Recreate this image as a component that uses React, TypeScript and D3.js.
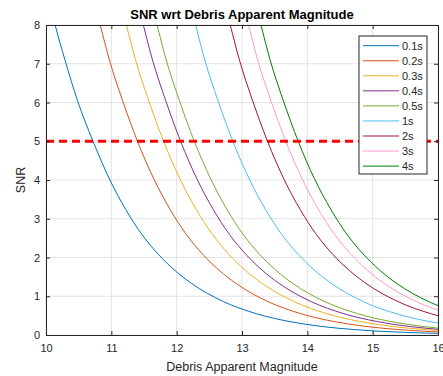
import React, { useEffect, useRef } from 'react';
import * as d3 from 'd3';

// exposure times shown in the legend
const exposures = ['0.1s', '0.2s', '0.3s', '0.4s', '0.5s', '1s', '2s', '3s', '4s'];

// [apparent magnitude, SNR], one list per exposure
const snr01: [number, number][] = [[10.0, 9.0], [10.14, 8.0], [10.29, 7.1], [10.48, 6.06], [10.72, 5.0], [10.97, 4.03], [11.22, 3.24], [11.47, 2.59], [11.72, 2.08], [11.97, 1.67], [12.22, 1.34], [12.72, 0.86], [13.22, 0.55], [13.72, 0.35], [14.22, 0.22], [14.72, 0.14], [15.22, 0.087], [15.72, 0.055], [16.02, 0.041]];
const snr02: [number, number][] = [[10.68, 9.0], [10.83, 8.0], [10.97, 7.1], [11.17, 6.06], [11.4, 5.0], [11.65, 4.03], [11.9, 3.24], [12.15, 2.59], [12.4, 2.08], [12.65, 1.67], [12.9, 1.34], [13.4, 0.86], [13.9, 0.55], [14.4, 0.35], [14.9, 0.22], [15.4, 0.14], [15.9, 0.087], [16.4, 0.055]];
const snr03: [number, number][] = [[11.08, 9.0], [11.23, 8.0], [11.37, 7.1], [11.57, 6.06], [11.8, 5.0], [12.05, 4.03], [12.3, 3.24], [12.55, 2.59], [12.8, 2.08], [13.05, 1.67], [13.3, 1.34], [13.8, 0.86], [14.3, 0.55], [14.8, 0.35], [15.3, 0.22], [15.8, 0.14], [16.3, 0.087]];
const snr04: [number, number][] = [[11.34, 9.0], [11.49, 8.0], [11.63, 7.1], [11.83, 6.06], [12.06, 5.0], [12.31, 4.03], [12.56, 3.24], [12.81, 2.59], [13.06, 2.08], [13.31, 1.67], [13.56, 1.34], [14.06, 0.86], [14.56, 0.55], [15.06, 0.35], [15.56, 0.22], [16.06, 0.14]];
const snr05: [number, number][] = [[11.55, 9.0], [11.7, 8.0], [11.84, 7.1], [12.04, 6.06], [12.27, 5.0], [12.52, 4.03], [12.77, 3.24], [13.02, 2.59], [13.27, 2.08], [13.52, 1.67], [13.77, 1.34], [14.27, 0.86], [14.77, 0.55], [15.27, 0.35], [15.77, 0.22], [16.27, 0.14]];
const snr1: [number, number][] = [[12.14, 9.0], [12.29, 8.0], [12.43, 7.1], [12.63, 6.06], [12.86, 5.0], [13.11, 4.03], [13.36, 3.24], [13.61, 2.59], [13.86, 2.08], [14.11, 1.67], [14.36, 1.34], [14.86, 0.86], [15.36, 0.55], [15.86, 0.35], [16.36, 0.22]];
const snr2: [number, number][] = [[12.67, 9.0], [12.82, 8.0], [12.96, 7.1], [13.16, 6.06], [13.39, 5.0], [13.64, 4.03], [13.89, 3.24], [14.14, 2.59], [14.39, 2.08], [14.64, 1.67], [14.89, 1.34], [15.39, 0.86], [15.89, 0.55], [16.39, 0.35]];
const snr3: [number, number][] = [[12.95, 9.0], [13.1, 8.0], [13.24, 7.1], [13.44, 6.06], [13.67, 5.0], [13.92, 4.03], [14.17, 3.24], [14.42, 2.59], [14.67, 2.08], [14.92, 1.67], [15.17, 1.34], [15.67, 0.86], [16.17, 0.55]];
const snr4: [number, number][] = [[13.14, 9.0], [13.29, 8.0], [13.43, 7.1], [13.63, 6.06], [13.86, 5.0], [14.11, 4.03], [14.36, 3.24], [14.61, 2.59], [14.86, 2.08], [15.11, 1.67], [15.36, 1.34], [15.86, 0.86], [16.36, 0.55]];

const series = [snr01, snr02, snr03, snr04, snr05, snr1, snr2, snr3, snr4];

const xTicks = [10, 11, 12, 13, 14, 15, 16];
const yTicks = [0, 1, 2, 3, 4, 5, 6, 7, 8];
const threshold = 5;

const colors = ['#0072BD', '#D95319', '#EDB120', '#7E2F8E', '#77AC30', '#4DBEEE', '#A2142F', '#FF99CC', '#008000'];

const W = 443;
const H = 376;
const margin = { top: 25, right: 5, bottom: 41, left: 46 };

const SnrChart = () => {
  const svgRef = useRef<SVGSVGElement>(null);

  useEffect(() => {
    document.body.style.margin = '0';
    const svg = d3.select(svgRef.current);
    svg.selectAll('*').remove();

    const x = d3.scaleLinear().domain([10, 16]).range([margin.left, W - margin.right]);
    const y = d3.scaleLinear().domain([0, 8]).range([H - margin.bottom, margin.top]);
    const font = 'Liberation Sans, Arial, Helvetica, sans-serif';
    const axisColor = '#262626';

    svg.append('rect').attr('width', W).attr('height', H).attr('fill', '#fff');

    // grid
    const grid = svg.append('g').attr('stroke', '#E3E3E3').attr('stroke-width', 1);
    grid.selectAll('.gx').data(xTicks).enter().append('line')
      .attr('x1', d => x(d)).attr('x2', d => x(d))
      .attr('y1', y(0)).attr('y2', y(8));
    grid.selectAll('.gy').data(yTicks).enter().append('line')
      .attr('x1', x(10)).attr('x2', x(16))
      .attr('y1', d => y(d)).attr('y2', d => y(d));

    svg.append('clipPath').attr('id', 'plot-clip')
      .append('rect')
      .attr('x', x(10)).attr('y', y(8))
      .attr('width', x(16) - x(10)).attr('height', y(0) - y(8));

    const line = d3.line<[number, number]>()
      .x(d => x(d[0]))
      .y(d => y(d[1]))
      .curve(d3.curveMonotoneX);

    const plot = svg.append('g').attr('clip-path', 'url(#plot-clip)');
    plot.selectAll('.curve').data(series).enter().append('path')
      .attr('d', d => line(d))
      .attr('fill', 'none')
      .attr('stroke', (_, i) => colors[i])
      .attr('stroke-width', 1);

    // SNR threshold
    plot.append('line')
      .attr('x1', x(10)).attr('x2', x(16))
      .attr('y1', y(threshold)).attr('y2', y(threshold))
      .attr('stroke', '#FF0000')
      .attr('stroke-width', 3)
      .attr('stroke-dasharray', '8,5');

    // axes, ticks pointing inwards
    const fmt = d3.format('d');
    const bottom = svg.append('g').attr('transform', `translate(0,${y(0)})`)
      .call(d3.axisBottom(x).tickValues(xTicks).tickFormat(fmt).tickSize(-4).tickPadding(9.5).tickSizeOuter(0));
    const left = svg.append('g').attr('transform', `translate(${x(10)},0)`)
      .call(d3.axisLeft(y).tickValues(yTicks).tickFormat(fmt).tickSize(-4).tickPadding(6).tickSizeOuter(0));
    const top = svg.append('g').attr('transform', `translate(0,${y(8)})`)
      .call(d3.axisTop(x).tickValues(xTicks).tickSize(-4).tickFormat(() => '').tickSizeOuter(0));
    const right = svg.append('g').attr('transform', `translate(${x(16)},0)`)
      .call(d3.axisRight(y).tickValues(yTicks).tickSize(-4).tickFormat(() => '').tickSizeOuter(0));

    [bottom, left, top, right].forEach(g => {
      g.select('.domain').attr('stroke', axisColor);
      g.selectAll('.tick line').attr('stroke', axisColor);
      g.selectAll('.tick text')
        .attr('fill', axisColor)
        .style('font-family', font)
        .style('font-size', '11px');
    });

    // legend
    const lx = 359;
    const ly = 36;
    const legend = svg.append('g');
    legend.append('rect')
      .attr('x', lx).attr('y', ly)
      .attr('width', 68).attr('height', 138)
      .attr('fill', '#fff')
      .attr('stroke', axisColor)
      .attr('stroke-width', 1);
    const rows = legend.selectAll('.row').data(exposures).enter().append('g')
      .attr('transform', (_, i) => `translate(0,${ly + 9.7 + i * 15.05})`);
    rows.append('line')
      .attr('x1', 363).attr('x2', 399)
      .attr('stroke', (_, i) => colors[i])
      .attr('stroke-width', 1);
    rows.append('text')
      .attr('x', 402)
      .attr('dy', '0.35em')
      .attr('fill', axisColor)
      .style('font-family', font)
      .style('font-size', '11px')
      .text(d => d);

    // labels
    svg.append('text')
      .attr('x', (x(10) + x(16)) / 2).attr('y', 19)
      .attr('text-anchor', 'middle')
      .attr('fill', '#000')
      .style('font-family', font)
      .style('font-size', '13px')
      .style('font-weight', 'bold')
      .text('SNR wrt Debris Apparent Magnitude');

    svg.append('text')
      .attr('x', (x(10) + x(16)) / 2).attr('y', 371)
      .attr('text-anchor', 'middle')
      .attr('fill', axisColor)
      .style('font-family', font)
      .style('font-size', '12.5px')
      .text('Debris Apparent Magnitude');

    svg.append('text')
      .attr('transform', `translate(25,${(y(0) + y(8)) / 2}) rotate(-90)`)
      .attr('text-anchor', 'middle')
      .attr('fill', axisColor)
      .style('font-family', font)
      .style('font-size', '12.5px')
      .text('SNR');
  }, []);

  return <svg ref={svgRef} width={W} height={H} style={{ display: 'block' }}></svg>;
};

export default function App() {
  return <SnrChart />;
}
